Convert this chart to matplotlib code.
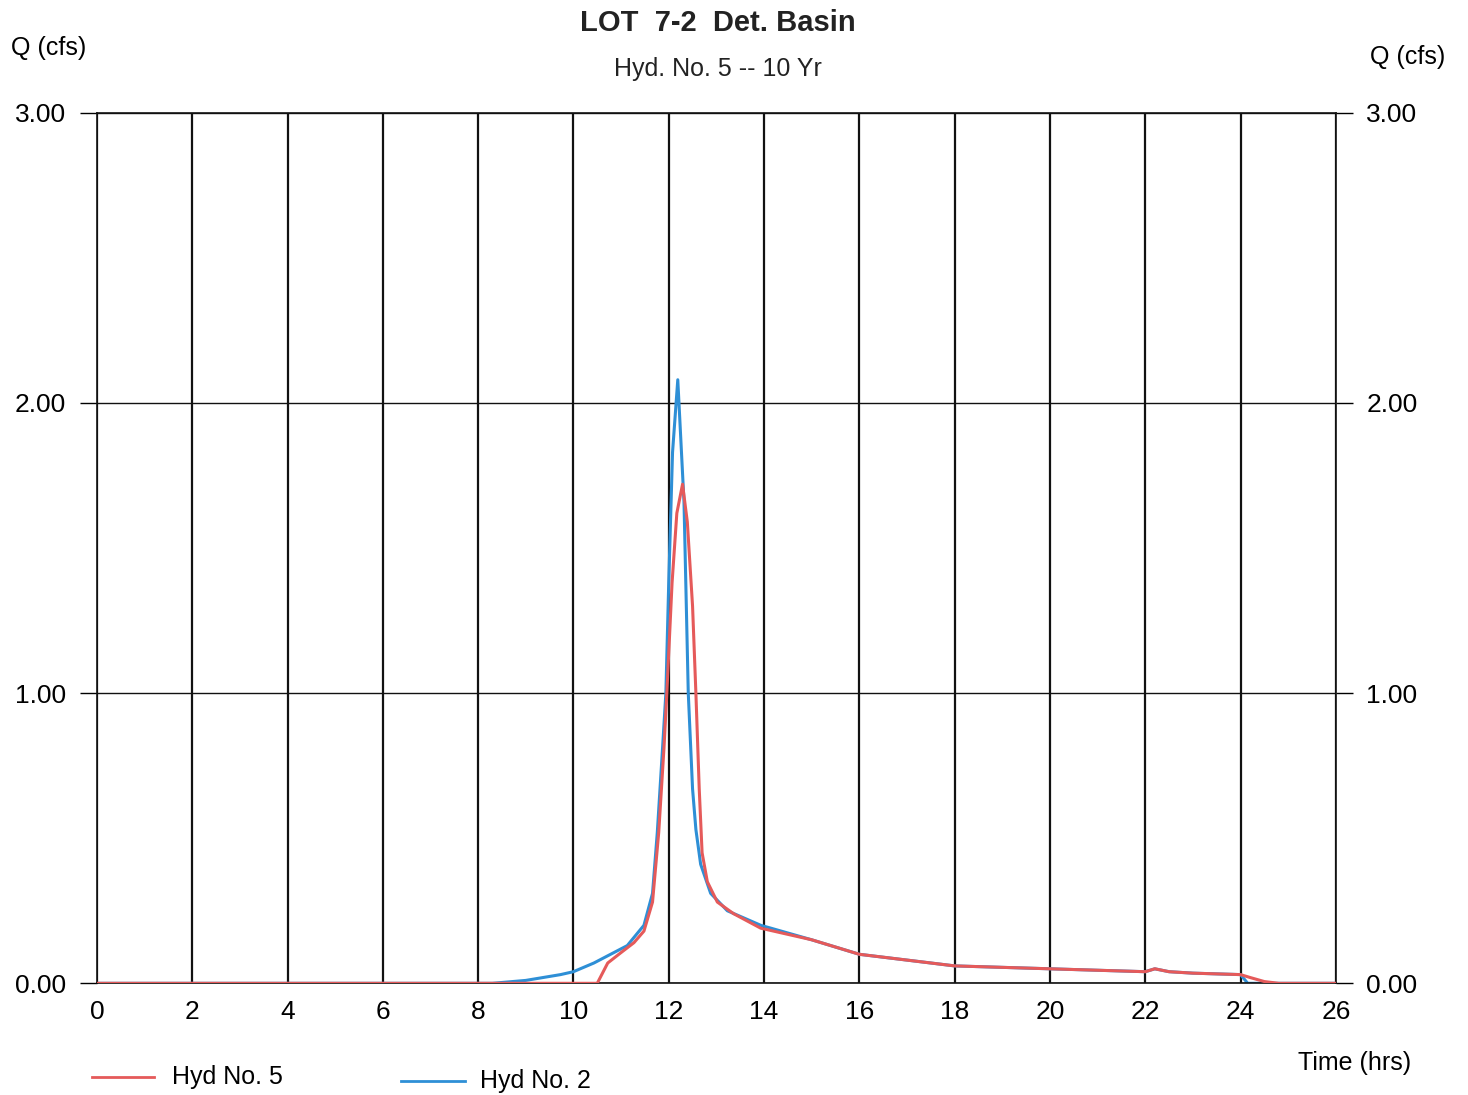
import matplotlib.pyplot as plt

plt.rcParams['font.family'] = ['Liberation Sans', 'DejaVu Sans']

# Hyd No. 2 (inflow)
t_hyd2 = [0, 8.0, 8.3, 9.0, 9.73, 10.0, 10.43, 11.13, 11.48, 11.66, 11.76, 11.87,
          11.94, 12.0, 12.08, 12.19, 12.32, 12.41, 12.5, 12.57, 12.67, 12.88,
          13.23, 13.93, 15.0, 16.0, 17.0, 18.0, 19.0, 20.0, 21.0, 22.0, 22.2,
          22.5, 23.0, 24.0, 24.15, 24.5, 26.0]
q_hyd2 = [0, 0, 0.0, 0.01, 0.03, 0.04, 0.07, 0.13, 0.2, 0.31, 0.52, 0.81,
          1.0, 1.38, 1.83, 2.08, 1.66, 1.0, 0.67, 0.53, 0.41, 0.31,
          0.25, 0.2, 0.15, 0.1, 0.08, 0.06, 0.055, 0.05, 0.045, 0.04, 0.05,
          0.04, 0.035, 0.03, 0.0, 0.0, 0.0]

# Hyd No. 5 (pond outflow)
t_hyd5 = [0, 10.5, 10.72, 11.0, 11.27, 11.48, 11.66, 11.79, 11.9, 11.96, 12.07,
          12.17, 12.29, 12.39, 12.5, 12.57, 12.64, 12.7, 12.81, 13.02, 13.36,
          13.93, 15.0, 16.0, 17.0, 18.0, 19.0, 20.0, 21.0, 22.0, 22.2, 22.5,
          23.0, 24.0, 24.2, 24.5, 24.8, 26.0]
q_hyd5 = [0, 0, 0.07, 0.106, 0.14, 0.18, 0.28, 0.52, 0.81, 1.0, 1.38,
          1.62, 1.72, 1.59, 1.3, 1.0, 0.67, 0.45, 0.35, 0.28, 0.24,
          0.19, 0.15, 0.1, 0.08, 0.06, 0.055, 0.05, 0.045, 0.04, 0.05, 0.04,
          0.035, 0.03, 0.02, 0.006, 0.0, 0.0]

x_ticks = list(range(0, 27, 2))
y_ticks = [0.0, 1.0, 2.0, 3.0]
y_labels = ['0.00', '1.00', '2.00', '3.00']

red = '#e55a5a'
blue = '#2e8fd6'

fig = plt.figure(figsize=(14.68, 10.95), dpi=100)
ax = fig.add_axes([0.066, 0.102, 0.844, 0.795])

ax.plot(t_hyd5, q_hyd5, color=red, lw=2.2, zorder=3)
ax.plot(t_hyd2, q_hyd2, color=blue, lw=2.2, zorder=2)

ax.set_xlim(0, 26)
ax.set_ylim(0, 3)
ax.set_xticks(x_ticks)
ax.set_yticks(y_ticks)
ax.set_yticklabels(y_labels)
for xv in x_ticks:
    ax.axvline(xv, color='#111111', lw=1.6, zorder=1)
for yv in y_ticks:
    ax.axhline(yv, color='#111111', lw=1.0, zorder=1)
for s in ax.spines.values():
    s.set_color('#111111')
    s.set_linewidth(1.2)

ax.tick_params(axis='x', length=0, pad=12, labelsize=19)
ax.tick_params(axis='y', length=12, width=1, labelsize=19, direction='out',
               left=True, right=True, labelleft=True, labelright=True, pad=10)

fig.text(0.489, 0.979, 'LOT  7-2  Det. Basin', ha='center', va='center',
         fontsize=21, fontweight='bold', color='#222222')
fig.text(0.489, 0.937, 'Hyd. No. 5 -- 10 Yr', ha='center', va='center',
         fontsize=18, color='#222222')
fig.text(0.033, 0.956, 'Q (cfs)', ha='center', va='center', fontsize=18)
fig.text(0.959, 0.948, 'Q (cfs)', ha='center', va='center', fontsize=18)
fig.text(0.923, 0.029, 'Time (hrs)', ha='center', va='center', fontsize=18)

# legend
fig.add_artist(plt.Line2D([0.063, 0.105], [0.016, 0.016], color=red, lw=2))
fig.text(0.117, 0.016, 'Hyd No. 5', ha='left', va='center', fontsize=18)
fig.add_artist(plt.Line2D([0.273, 0.317], [0.013, 0.013], color=blue, lw=2))
fig.text(0.327, 0.013, 'Hyd No. 2', ha='left', va='center', fontsize=18)

fig.savefig('out.png', dpi=100)
